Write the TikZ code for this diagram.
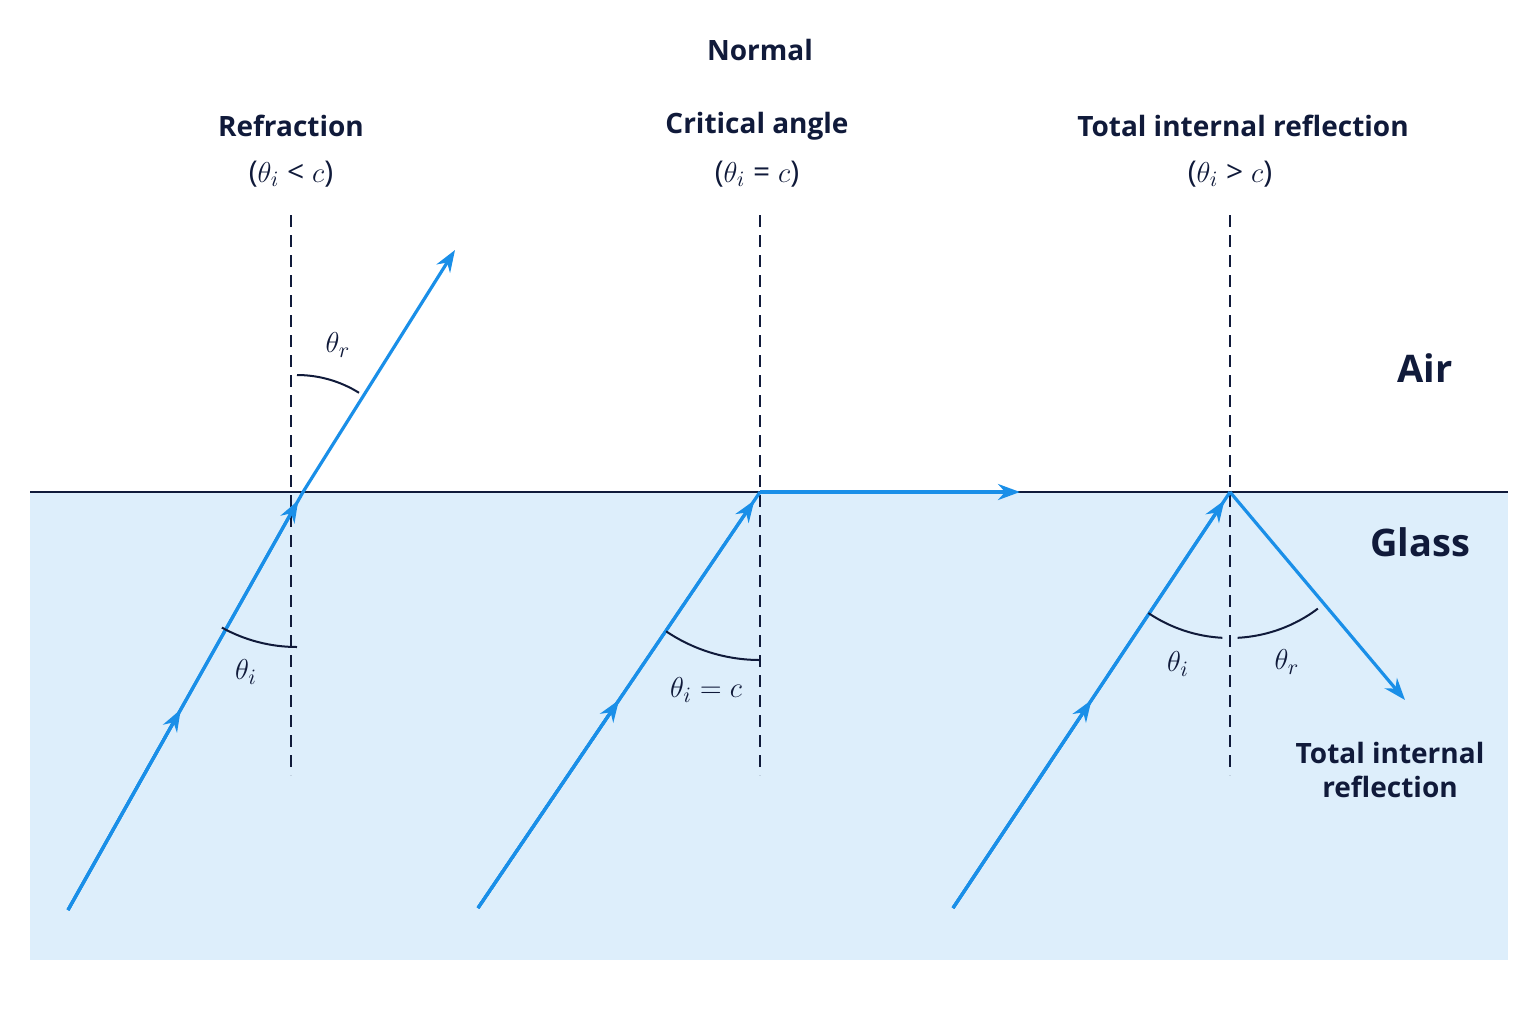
\documentclass[tikz,border=0pt]{standalone}
\usepackage{fontspec}
\setmainfont{Open Sans}
\usetikzlibrary{arrows.meta,calc}
\definecolor{ray}{HTML}{1A8FE8}
\definecolor{navy}{HTML}{101A3A}
\definecolor{glass}{HTML}{DDEEFB}
\begin{document}
\begin{tikzpicture}[x=0.5pt,y=-0.5pt,
  ray/.style={draw=ray,line width=1.6pt},
  tip/.style={ray,-{Stealth[length=11pt,width=8pt]}},
  normal/.style={draw=navy,dashed,line width=0.9pt,dash pattern=on 6pt off 4pt},
  arcs/.style={draw=navy,line width=1pt},
  lab/.style={text=navy,font=\fontsize{14}{17}\selectfont\bfseries},
  gr/.style={text=navy,font=\fontsize{15}{17}\selectfont},
  big/.style={text=navy,font=\fontsize{19}{22}\selectfont\bfseries}]
\useasboundingbox (0,0) rectangle (1536,1024);
\fill[glass] (30,492) rectangle (1508,960);
% normals
\foreach \x/\n in {291/n1,760/n2,1230/n3}{
  \coordinate (\n t) at (\x,215); \coordinate (\n b) at (\x,775);
  \draw[normal] (\n t) -- (\n b);}
\draw[navy,line width=1.3pt] (30,492) -- (1508,492);
% ray 1
\coordinate (a1) at (68,910); \coordinate (p1) at (303,492); \coordinate (r1) at (455,250);
\draw[ray] (a1) -- (p1);
\draw[tip] (a1) -- ($(a1)!0.48!(p1)$);
\draw[tip] (a1) -- ($(a1)!0.98!(p1)$);
\draw[tip] (p1) -- (r1);
\draw[arcs] (297,492) ++(90:155) arc (90:119:155);
\draw[arcs] (297,492) ++(270:117) arc (270:302:117);
% ray 2
\coordinate (a2) at (478,908); \coordinate (p2) at (760,492); \coordinate (r2) at (1020,492);
\draw[ray] (a2) -- (p2);
\draw[tip] (a2) -- ($(a2)!0.5!(p2)$);
\draw[tip] (a2) -- ($(a2)!0.98!(p2)$);
\draw[tip] (p2) -- (r2);
\draw[arcs] (760,492) ++(90:168) arc (90:124:168);
% ray 3
\coordinate (a3) at (953,908); \coordinate (p3) at (1230,492); \coordinate (r3) at (1405,700);
\draw[ray] (a3) -- (p3);
\draw[tip] (a3) -- ($(a3)!0.5!(p3)$);
\draw[tip] (a3) -- ($(a3)!0.98!(p3)$);
\draw[tip] (p3) -- (r3);
\draw[arcs] (1230,492) ++(93:146) arc (93:124:146);
\draw[arcs] (1230,492) ++(87:146) arc (87:53:146);
% labels
\node[lab] (tn) at (760,50) {Normal};
\node[lab] (t1) at (291,126) {Refraction};
\node[gr] (c1) at (291,174) {($\theta_i$ < $c$)};
\node[lab] (t2) at (757,126) {Critical angle};
\node[gr] (c2) at (757,174) {($\theta_i$ = $c$)};
\node[lab] (t3) at (1243,126) {Total internal reflection};
\node[gr] (c3) at (1230,174) {($\theta_i$ > $c$)};
\node[big] (air) at (1425,368) {Air};
\node[big] (gl) at (1420,542) {Glass};
\node[gr] (g1) at (338,345) {$\theta_r$};
\node[gr] (g2) at (246,672) {$\theta_i$};
\node[gr] (g3) at (706,690) {$\theta_i = c$};
\node[gr] (g4) at (1178,664) {$\theta_i$};
\node[gr] (g5) at (1287,662) {$\theta_r$};
\node[lab,align=center] (tir) at (1390,770) {Total internal\\reflection};
\end{tikzpicture}
\end{document}
